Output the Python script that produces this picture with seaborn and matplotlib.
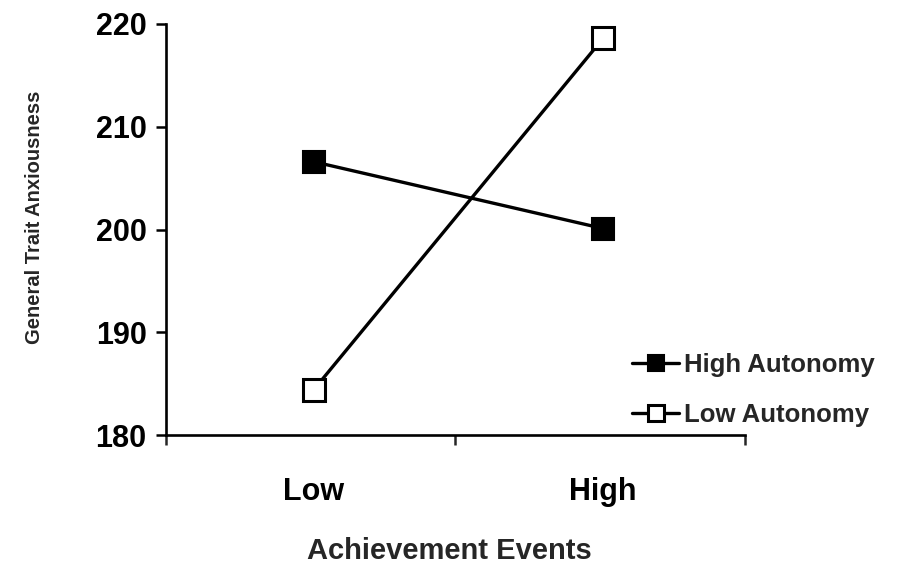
import matplotlib
matplotlib.use("Agg")
import matplotlib.pyplot as plt
import seaborn as sns
import pandas as pd

# Data
categories = ["Low", "High"]
high_autonomy = [206.6, 200.1]
low_autonomy = [184.4, 218.6]
series_names = ["High Autonomy", "Low Autonomy"]
y_ticks = [180, 190, 200, 210, 220]

sns.set_style("ticks")
plt.rcParams["font.family"] = ["Liberation Sans", "DejaVu Sans"]
plt.rcParams["font.weight"] = "bold"

fig = plt.figure(figsize=(8.97, 5.71), dpi=100)
ax = fig.add_axes([0.185, 0.238, 0.6455, 0.72])

df_high = pd.DataFrame({"events": categories, "anx": high_autonomy})
df_low = pd.DataFrame({"events": categories, "anx": low_autonomy})

sns.lineplot(data=df_high, x="events", y="anx", ax=ax, color="black",
             linewidth=2.4, marker="s", markersize=16, markerfacecolor="black",
             markeredgecolor="black", markeredgewidth=1.5, clip_on=False,
             label=series_names[0], zorder=3)
sns.lineplot(data=df_low, x="events", y="anx", ax=ax, color="black",
             linewidth=2.4, marker="s", markersize=16, markerfacecolor="white",
             markeredgecolor="black", markeredgewidth=2.2, clip_on=False,
             label=series_names[1], zorder=3)

ax.set_ylim(180, 220)
ax.set_yticks(y_ticks)
ax.set_xlim(-0.51, 1.49)
ax.set_xticks([0, 1])
ax.set_xticklabels(categories)
ax.set_xticks([-0.51, 0.49, 1.49], minor=True)

for s in ["top", "right"]:
    ax.spines[s].set_visible(False)
for s in ["left", "bottom"]:
    ax.spines[s].set_linewidth(1.9)
    ax.spines[s].set_color("black")

ax.tick_params(axis="y", which="major", labelsize=22, length=7, width=1.8,
               direction="out", pad=7, colors="black")
ax.tick_params(axis="x", which="major", labelsize=22, length=0, pad=30,
               colors="black")
ax.tick_params(axis="x", which="minor", length=7, width=1.8, direction="out")
for lbl in ax.get_xticklabels() + ax.get_yticklabels():
    lbl.set_fontweight("bold")

ax.set_xlabel("Achievement Events", fontsize=21, fontweight="bold")
ax.set_ylabel("General Trait Anxiousness", fontsize=14.5, fontweight="bold")
ax.xaxis.set_label_coords(0.489, -0.248)
ax.yaxis.set_label_coords(-0.21, 0.53)

handles, labels = ax.get_legend_handles_labels()
ax.legend_.remove()
fig.legend(handles, labels, loc="center left", bbox_to_anchor=(0.705, 0.317),
           frameon=False, handlelength=1.8, handletextpad=0.2,
           markerscale=0.75, labelspacing=1.0, borderpad=0, borderaxespad=0,
           prop={"weight": "bold", "size": 18.5})

fig.savefig("out.png", dpi=100, facecolor="white")
